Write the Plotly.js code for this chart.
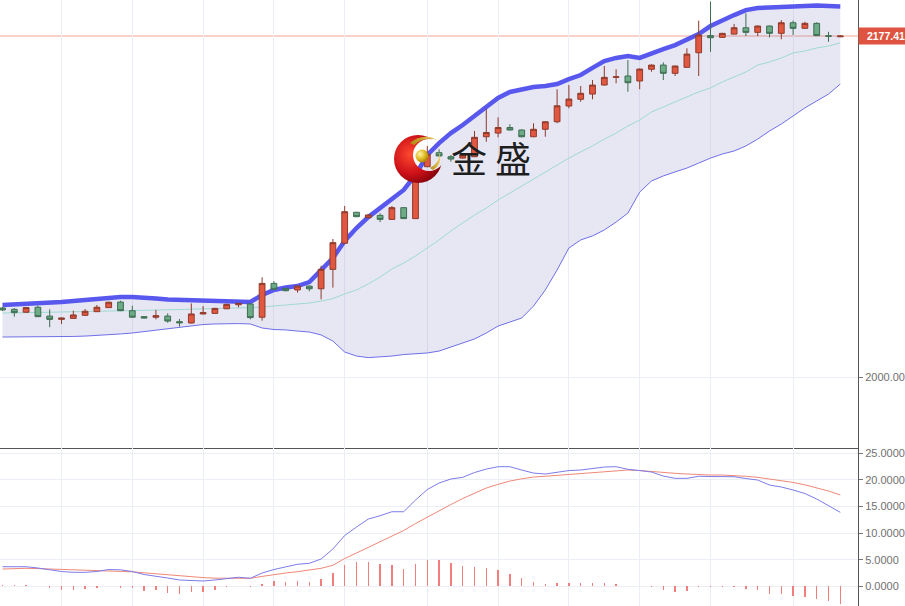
<!DOCTYPE html>
<html>
<head>
<meta charset="utf-8">
<script src="https://cdn.plot.ly/plotly-3.0.1.min.js"></script>
<style>html,body{margin:0;padding:0;background:#fff;}#chart{width:905px;height:606px;}</style>
</head>
<body>
<div id="chart"></div>
<script>
// ---- candle data ----
const openP = [2035.9,2035.2,2033.7,2036.3,2031.7,2030.0,2030.5,2032.1,2034.0,2036.1,
2039.0,2034.5,2031.4,2031.1,2031.7,2028.8,2028.1,2032.8,2033.1,2035.5,
2037.6,2038.0,2031.1,2048.7,2046.1,2045.3,2047.3,2045.9,2056.0,2069.6,
2085.7,2082.9,2084.1,2082.0,2088.1,2082.4,2109.4,2116.7,2114.6,2113.9,
2114.6,2125.0,2126.9,2129.8,2128.5,2125.0,2128.9,2132.8,2141.0,2144.5,
2147.2,2151.9,2155.9,2156.6,2154.0,2160.1,2162.3,2158.0,2161.1,2168.7,
2177.6,2176.7,2178.4,2181.7,2179.3,2182.6,2178.8,2184.3,2181.4,2184.0,
2177.5,2177.0];
const highP = [2036.4,2035.9,2036.3,2037.1,2035.2,2030.9,2034.5,2035.4,2037.5,2039.2,
2039.7,2037.1,2031.6,2034.9,2033.1,2030.2,2038.3,2036.9,2036.0,2038.1,
2038.5,2038.2,2051.9,2049.9,2046.4,2047.5,2047.6,2057.9,2071.8,2089.0,
2085.9,2084.6,2085.2,2089.0,2088.4,2110.0,2120.2,2118.5,2115.5,2116.0,
2128.0,2139.4,2135.1,2131.5,2128.8,2132.0,2133.1,2149.7,2151.9,2151.4,
2154.5,2161.8,2160.1,2164.9,2160.5,2162.6,2163.7,2162.0,2171.0,2185.4,
2195.3,2179.0,2183.7,2189.2,2182.9,2182.9,2185.7,2185.4,2184.8,2184.5,
2179.6,2177.8];
const lowP = [2034.3,2031.4,2033.3,2031.2,2025.9,2027.6,2030.3,2031.9,2033.8,2035.9,
2034.3,2030.9,2030.5,2030.0,2028.2,2026.2,2027.9,2032.6,2032.9,2035.3,
2036.3,2030.0,2029.3,2045.4,2044.6,2043.9,2044.6,2040.4,2046.5,2069.4,
2083.2,2082.6,2080.6,2081.8,2082.2,2082.2,2109.2,2114.8,2112.0,2113.5,
2114.4,2122.4,2124.7,2128.3,2124.7,2124.8,2125.0,2132.0,2139.8,2143.2,
2144.5,2151.7,2152.8,2148.4,2149.7,2158.8,2154.5,2156.6,2160.9,2156.6,
2169.2,2176.5,2178.2,2177.4,2177.4,2176.7,2175.7,2177.9,2181.2,2177.4,
2174.4,2176.8];
const closeP = [2034.9,2033.5,2036.1,2031.4,2030.0,2030.7,2032.3,2034.2,2036.3,2038.9,
2034.5,2031.1,2030.7,2031.9,2029.1,2028.2,2032.8,2033.5,2035.7,2037.8,
2038.3,2030.9,2048.7,2045.6,2044.9,2047.3,2045.9,2056.0,2069.9,2086.0,
2083.4,2084.3,2082.0,2088.1,2082.4,2109.0,2115.9,2115.0,2113.4,2115.5,
2124.7,2127.2,2129.8,2128.5,2125.0,2128.9,2132.8,2141.1,2144.6,2147.6,
2151.9,2155.9,2156.2,2153.1,2160.2,2162.3,2158.0,2161.8,2168.0,2177.9,
2176.5,2178.8,2181.7,2179.3,2182.6,2178.8,2184.3,2181.4,2184.0,2177.6,
2177.3,2177.41];

// ---- Bollinger bands ----
const bandUpper = [2037.5,2037.7,2038.0,2038.5,2038.8,2039.0,2039.5,2040.1,2040.6,2041.1,
2041.6,2041.6,2041.4,2040.8,2040.3,2040.1,2039.8,2039.5,2039.3,2039.3,
2039.0,2039.0,2042.7,2045.3,2046.6,2047.3,2049.4,2055.7,2061.9,2070.8,
2077.5,2083.2,2087.9,2093.1,2097.3,2105.1,2115.5,2121.7,2126.9,2131.1,
2135.8,2140.5,2145.2,2148.3,2149.8,2150.9,2151.4,2152.4,2155.0,2157.1,
2160.8,2164.4,2166.0,2167.0,2166.0,2168.6,2170.6,2172.7,2175.3,2178.4,
2182.6,2185.7,2188.3,2190.9,2192.0,2192.2,2192.5,2193.0,2193.5,2193.3,
2193.0,2192.8];
const bandMid = [2033.3,2033.3,2033.4,2033.6,2033.7,2033.8,2033.9,2034.1,2034.2,2034.3,
2034.4,2034.6,2034.7,2034.9,2035.0,2035.1,2035.3,2035.4,2035.6,2035.7,
2035.9,2036.1,2036.4,2036.9,2037.5,2038.0,2038.5,2039.5,2040.8,2043.2,
2045.3,2048.4,2052.0,2056.2,2059.3,2063.0,2067.1,2071.3,2076.0,2080.1,
2084.3,2087.9,2092.1,2095.7,2099.4,2103.0,2106.7,2110.3,2113.9,2117.1,
2120.2,2123.8,2126.9,2130.6,2133.7,2137.9,2140.5,2143.1,2145.7,2148.3,
2150.4,2153.5,2156.1,2158.7,2162.3,2163.9,2166.0,2168.6,2169.6,2171.2,
2172.2,2173.8];
const bandLower = [2020.8,2020.8,2020.8,2020.8,2020.8,2020.8,2021.1,2021.3,2021.6,2021.9,
2022.4,2022.9,2023.7,2024.5,2025.2,2026.0,2026.8,2027.3,2027.6,2027.8,
2027.8,2027.6,2025.5,2024.7,2024.5,2023.9,2023.4,2021.9,2018.7,2013.0,
2010.9,2010.1,2010.4,2010.9,2011.7,2012.2,2012.5,2013.5,2015.6,2017.7,
2019.8,2022.9,2026.5,2028.6,2030.7,2036.9,2045.3,2055.7,2067.1,2071.3,
2073.4,2076.5,2080.6,2085.3,2096.2,2102.0,2104.6,2106.7,2108.7,2111.3,
2113.9,2116.0,2117.6,2120.2,2123.8,2128.0,2131.6,2135.8,2140.0,2143.6,
2147.2,2152.4];

// ---- MACD ----
const macdDif = [3.71,3.71,3.71,3.47,3.10,2.81,2.66,2.66,2.81,3.19,
3.13,2.81,2.25,1.97,1.59,1.22,1.09,1.03,1.22,1.50,
1.73,1.54,2.53,3.19,3.70,4.17,4.35,5.16,7.04,9.57,
11.16,12.66,13.28,14.03,14.03,16.23,18.20,19.42,20.17,20.49,
21.39,22.04,22.48,22.48,21.86,21.29,21.11,21.48,21.76,21.86,
22.14,22.42,22.48,21.99,21.76,21.48,20.73,20.30,20.30,20.69,
20.64,20.60,20.60,20.26,19.98,19.04,18.67,18.11,17.45,16.42,
15.20,13.92];
const macdDea = [3.28,3.38,3.41,3.36,3.28,3.19,3.13,3.10,3.04,2.98,
2.91,2.76,2.57,2.38,2.16,1.97,1.82,1.67,1.56,1.54,
1.54,1.54,1.90,2.25,2.53,2.78,3.10,3.41,3.98,5.25,
6.29,7.32,8.44,9.42,10.51,11.82,13.04,14.26,15.38,16.51,
17.54,18.48,19.17,19.79,20.21,20.54,20.69,20.86,21.03,21.14,
21.35,21.58,21.78,21.86,21.76,21.54,21.37,21.24,21.11,20.99,
20.92,20.92,20.83,20.68,20.49,20.17,19.87,19.53,19.08,18.57,
17.92,17.17];
const macdHist = [0.25,0.25,0.2,0.05,-0.3,-0.75,-0.6,-0.4,-0.3,0,
-0.2,-0.3,-0.85,-0.75,-1.25,-1.5,-1.0,-0.95,-0.75,-0.15,
0.1,-0.15,0.5,1.0,0.8,1.1,0.8,1.45,2.5,4.05,
4.55,4.55,4.25,4.05,3.3,4.25,4.9,4.95,4.5,3.9,
3.6,3.4,3.1,2.4,1.6,0.8,0.45,0.6,0.6,0.6,
0.6,0.6,0.4,0,0,-0.1,-0.6,-1.0,-0.9,-0.15,
-0.15,-0.15,-0.15,-0.5,-0.6,-1.4,-1.4,-1.7,-1.9,-2.4,
-2.8,-3.25];

const gridIdx = [5,11,17,23,29,36,42,48,54,60,67];
const lastPrice = 2177.41;
const priceTicks = [2000];
const macdTicks = [0,5,10,15,20,25];

const idx = openP.map((_, i) => i);

const logoSvg = "<svg xmlns='http://www.w3.org/2000/svg' width='50' height='54' viewBox='0 0 50 54'>" +
"<defs>" +
"<radialGradient id='r' cx='0.35' cy='0.4' r='0.75'><stop offset='0' stop-color='#ff4a30'/><stop offset='0.55' stop-color='#cc1018'/><stop offset='1' stop-color='#6e0008'/></radialGradient>" +
"<radialGradient id='g' cx='0.35' cy='0.35' r='0.75'><stop offset='0' stop-color='#fff6a8'/><stop offset='0.55' stop-color='#dcb820'/><stop offset='1' stop-color='#9a7400'/></radialGradient>" +
"<linearGradient id='s' x1='0' y1='0' x2='1' y2='0'><stop offset='0' stop-color='#b08a10'/><stop offset='1' stop-color='#f0d060'/></linearGradient>" +
"<mask id='m'><rect width='50' height='54' fill='white'/><circle cx='36' cy='24' r='16' fill='black'/></mask>" +
"</defs>" +
"<circle cx='25' cy='28' r='24' fill='url(#r)' mask='url(#m)'/>" +
"<path d='M17,12 Q30,1 45,9 Q31,5 21,14 Z' fill='url(#s)'/>" +
"<path d='M37,37 Q48,31 46,21 Q50,33 40,39 Z' fill='url(#s)'/>" +
"<circle cx='29' cy='25' r='6.5' fill='url(#g)'/>" +
"</svg>";
const logoUri = 'data:image/svg+xml;charset=utf-8,' + encodeURIComponent(logoSvg);

const traces = [
  {type:'scatter', mode:'lines', x: idx, y: bandLower, xaxis:'x', yaxis:'y',
   line:{color:'#6f6fe8', width:1}, hoverinfo:'skip'},
  {type:'scatter', mode:'lines', x: idx, y: bandUpper, xaxis:'x', yaxis:'y',
   fill:'tonexty', fillcolor:'rgba(110,110,190,0.17)',
   line:{color:'#5858ee', width:4.5}, hoverinfo:'skip'},
  {type:'scatter', mode:'lines', x: idx, y: bandMid, xaxis:'x', yaxis:'y',
   line:{color:'#9fdad0', width:1}, hoverinfo:'skip'},
  {type:'candlestick', x: idx, open: openP, high: highP, low: lowP, close: closeP,
   xaxis:'x', yaxis:'y3',
   increasing:{line:{color:'#8e3a2b', width:1}, fillcolor:'#e2573f'},
   decreasing:{line:{color:'#3e6d52', width:1}, fillcolor:'#6daa86'},
   hoverinfo:'skip'},
  {type:'bar', x: idx, y: macdHist, xaxis:'x2', yaxis:'y2', width:0.13,
   marker:{color:'#f27d7d', line:{width:0}}, hoverinfo:'skip'},
  {type:'scatter', mode:'lines', x: idx, y: macdDea, xaxis:'x2', yaxis:'y2',
   line:{color:'#f08878', width:1}, hoverinfo:'skip'},
  {type:'scatter', mode:'lines', x: idx, y: macdDif, xaxis:'x2', yaxis:'y2',
   line:{color:'#7c7ce8', width:1}, hoverinfo:'skip'}
];

const tickFont = {family:'Liberation Sans, Arial, sans-serif', size:11, color:'#707070'};
const gridC = '#eceef5';
const xRange = [-0.212, 72.5];
const priceRange = [1963.06, 2196.14];

const layout = {
  width:905, height:606,
  margin:{l:0, r:47, t:0, b:0},
  paper_bgcolor:'#ffffff', plot_bgcolor:'#ffffff',
  showlegend:false,
  bargap:0,
  xaxis:{domain:[0,1], range:xRange, anchor:'y', tickmode:'array', tickvals:gridIdx,
    showticklabels:false, ticks:'', showgrid:true, gridcolor:gridC, zeroline:false,
    showline:true, linecolor:'#555555', linewidth:1, rangeslider:{visible:false}, fixedrange:true},
  xaxis2:{domain:[0,1], range:xRange, anchor:'y2', tickmode:'array', tickvals:gridIdx,
    showticklabels:false, ticks:'', showgrid:true, gridcolor:gridC, zeroline:false,
    showline:false, fixedrange:true},
  yaxis:{domain:[0.2607,1], range:priceRange, side:'right', anchor:'x',
    tickmode:'array', tickvals:priceTicks, tickformat:'.2f',
    ticks:'outside', ticklen:4, tickcolor:'#777', tickfont:tickFont,
    showgrid:true, gridcolor:gridC, zeroline:false,
    showline:true, linecolor:'#555555', linewidth:1, fixedrange:true},
  yaxis3:{overlaying:'y', range:priceRange, side:'right', visible:false, showgrid:false, zeroline:false, fixedrange:true},
  yaxis2:{domain:[0,0.2607], range:[-3.66, 25.99], side:'right', anchor:'x2',
    tickmode:'array', tickvals:macdTicks, tickformat:'.4f',
    ticks:'outside', ticklen:4, tickcolor:'#777', tickfont:tickFont,
    showgrid:true, gridcolor:gridC, zeroline:false,
    showline:true, linecolor:'#555555', linewidth:1, fixedrange:true},
  shapes:[
    {type:'line', xref:'paper', x0:0, x1:1, yref:'y', y0:lastPrice, y1:lastPrice,
     line:{color:'#f2a592', width:1}, layer:'below'}
  ],
  annotations:[
    {xref:'paper', yref:'y', x:1, y:lastPrice, xanchor:'left', yanchor:'middle',
     text:'<b>2177.41</b>', showarrow:false, bgcolor:'#df5440', borderpad:1,
     width:45, height:14, align:'right',
     font:{family:'Liberation Sans, Arial, sans-serif', size:10.5, color:'#ffffff'}},
    {xref:'paper', yref:'paper', x:491/858, y:1-157/606, xanchor:'center', yanchor:'middle',
     text:'金 盛', showarrow:false,
     font:{family:'Noto Sans CJK SC, sans-serif', size:36, color:'#1e1e1e'}}
  ],
  images:[
    {source:logoUri, xref:'paper', yref:'paper', x:393/858, y:1-131/606,
     sizex:50/858, sizey:54/606, xanchor:'left', yanchor:'top', sizing:'stretch', layer:'above'}
  ]
};

Plotly.newPlot('chart', traces, layout, {displayModeBar:false, staticPlot:true});
</script>
</body>
</html>
